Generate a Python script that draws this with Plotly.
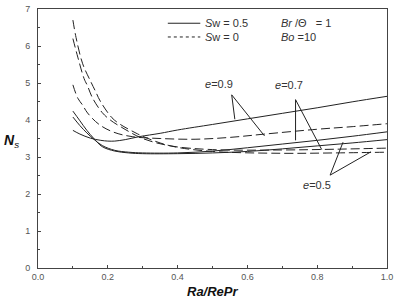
import plotly.graph_objects as go

# Sw = 0.5 (solid)
x_s09 = [0.10, 0.12, 0.15, 0.18, 0.20, 0.22, 0.25, 0.29, 0.35, 0.40, 0.50, 0.60, 0.70, 0.80, 0.90, 1.00]
y_s09 = [3.72, 3.62, 3.51, 3.45, 3.43, 3.43, 3.47, 3.55, 3.64, 3.73, 3.88, 4.03, 4.18, 4.33, 4.49, 4.64]
x_s07 = [0.10, 0.12, 0.14, 0.16, 0.184, 0.22, 0.26, 0.30, 0.40, 0.50, 0.60, 0.70, 0.80, 0.90, 1.00]
y_s07 = [4.08, 3.85, 3.65, 3.48, 3.31, 3.18, 3.13, 3.11, 3.11, 3.16, 3.25, 3.35, 3.45, 3.56, 3.68]
x_s05 = [0.10, 0.12, 0.14, 0.16, 0.184, 0.22, 0.26, 0.30, 0.40, 0.50, 0.60, 0.70, 0.80, 0.90, 1.00]
y_s05 = [4.24, 3.98, 3.72, 3.50, 3.28, 3.16, 3.11, 3.09, 3.09, 3.11, 3.15, 3.22, 3.30, 3.38, 3.47]

# Sw = 0 (dashed)
x_d09 = [0.10, 0.114, 0.128, 0.142, 0.175, 0.217, 0.27, 0.35, 0.45, 0.55, 0.65, 0.80, 0.90, 1.00]
y_d09 = [4.95, 4.59, 4.40, 4.19, 3.88, 3.67, 3.55, 3.50, 3.48, 3.53, 3.62, 3.75, 3.82, 3.90]
x_d07 = [0.10, 0.114, 0.132, 0.142, 0.156, 0.184, 0.207, 0.24, 0.30, 0.38, 0.50, 0.70, 0.85, 1.00]
y_d07 = [6.20, 5.70, 5.12, 4.92, 4.60, 4.20, 4.00, 3.80, 3.50, 3.30, 3.20, 3.19, 3.21, 3.24]
x_d05 = [0.10, 0.109, 0.128, 0.151, 0.165, 0.179, 0.212, 0.236, 0.278, 0.30, 0.35, 0.40, 0.50, 0.70, 0.85, 1.00]
y_d05 = [6.70, 6.23, 5.52, 5.04, 4.77, 4.50, 4.06, 3.88, 3.66, 3.56, 3.38, 3.26, 3.15, 3.10, 3.11, 3.13]

# annotation labels and leader lines (data coords)
labels = ["<i>e</i>=0.9", "<i>e</i>=0.7", "<i>e</i>=0.5"]
label_x = [0.520, 0.720, 0.800]
label_y = [4.97, 4.95, 2.25]
leader_from = [(0.555, 4.68), (0.738, 4.55), (0.837, 2.51)]
leader_to = [[(0.564, 4.02), (0.649, 3.57)],
             [(0.738, 3.45), (0.813, 3.20)],
             [(0.874, 3.40), (0.954, 3.14)]]

x_ticks = [0.0, 0.2, 0.4, 0.6, 0.8, 1.0]
x_tick_text = ["0.0", "0.2", "0.4", "0.6", "0.8", "1.0"]
y_ticks = [0, 1, 2, 3, 4, 5, 6, 7]

LC = "#222222"
DASH = "9px,4px"
FAM = "Liberation Sans, Arial, sans-serif"

fig = go.Figure()
for xs, ys in [(x_s09, y_s09), (x_s07, y_s07), (x_s05, y_s05)]:
    fig.add_trace(go.Scatter(x=xs, y=ys, mode="lines", line=dict(color=LC, width=1, shape="spline"),
                             showlegend=False, hoverinfo="skip", cliponaxis=False))
for xs, ys in [(x_d09, y_d09), (x_d07, y_d07), (x_d05, y_d05)]:
    fig.add_trace(go.Scatter(x=xs, y=ys, mode="lines", line=dict(color=LC, width=1, dash=DASH, shape="spline"),
                             showlegend=False, hoverinfo="skip", cliponaxis=False))

shapes = []
for (fx, fy), tos in zip(leader_from, leader_to):
    for tx, ty in tos:
        shapes.append(dict(type="line", xref="x", yref="y", x0=fx, y0=fy, x1=tx, y1=ty,
                           line=dict(color=LC, width=1)))

# legend samples (paper coords)
shapes.append(dict(type="line", xref="paper", yref="paper", x0=0.372, x1=0.465, y0=0.945, y1=0.945,
                   line=dict(color=LC, width=1)))
shapes.append(dict(type="line", xref="paper", yref="paper", x0=0.372, x1=0.465, y0=0.892, y1=0.892,
                   line=dict(color=LC, width=1, dash="dot")))

annotations = []
for t, x, y in zip(labels, label_x, label_y):
    annotations.append(dict(text=t, x=x, y=y, xref="x", yref="y", showarrow=False,
                            font=dict(size=11, color="#333", family=FAM), xanchor="center", yanchor="middle"))

leg_font = dict(size=11, color="#333", family=FAM)
annotations += [
    dict(text="<i>S</i>w = 0.5", x=0.472, y=0.945, xref="paper", yref="paper", showarrow=False,
         xanchor="left", yanchor="middle", font=leg_font),
    dict(text="<i>S</i>w = 0", x=0.472, y=0.892, xref="paper", yref="paper", showarrow=False,
         xanchor="left", yanchor="middle", font=leg_font),
    dict(text="<i>Br</i> /Θ   = 1", x=0.690, y=0.945, xref="paper", yref="paper", showarrow=False,
         xanchor="left", yanchor="middle", font=leg_font),
    dict(text="<i>Bo</i> =10", x=0.690, y=0.892, xref="paper", yref="paper", showarrow=False,
         xanchor="left", yanchor="middle", font=leg_font),
    dict(text="<b><i>N</i></b><sub><i>s</i></sub>", x=-0.075, y=0.49, xref="paper", yref="paper",
         showarrow=False, xanchor="center", yanchor="middle",
         font=dict(size=14, color="#111", family=FAM)),
    dict(text="<b><i>Ra/RePr</i></b>", x=0.5, y=-0.09, xref="paper", yref="paper",
         showarrow=False, xanchor="center", yanchor="middle",
         font=dict(size=13, color="#111", family=FAM)),
]

axis_common = dict(showline=True, linecolor="#444", linewidth=1, mirror=True, showgrid=False,
                   zeroline=False, ticks="inside", ticklen=3, tickcolor="#444",
                   ticklabeloverflow="allow",
                   tickfont=dict(size=9, color="#555", family=FAM))

fig.update_layout(
    width=397, height=302,
    margin=dict(l=38, r=4, t=4, b=34),
    paper_bgcolor="white", plot_bgcolor="white",
    xaxis=dict(range=[0, 1.0], tickvals=x_ticks, ticktext=x_tick_text,
               minor=dict(ticks="inside", ticklen=2, dtick=0.1, tickcolor="#444"), **axis_common),
    yaxis=dict(range=[0, 7], tickvals=y_ticks, ticklabelstandoff=5,
               minor=dict(ticks="inside", ticklen=2, dtick=0.5, tickcolor="#444"), **axis_common),
    shapes=shapes, annotations=annotations,
    font=dict(family=FAM),
)

fig.write_html("out.html")
